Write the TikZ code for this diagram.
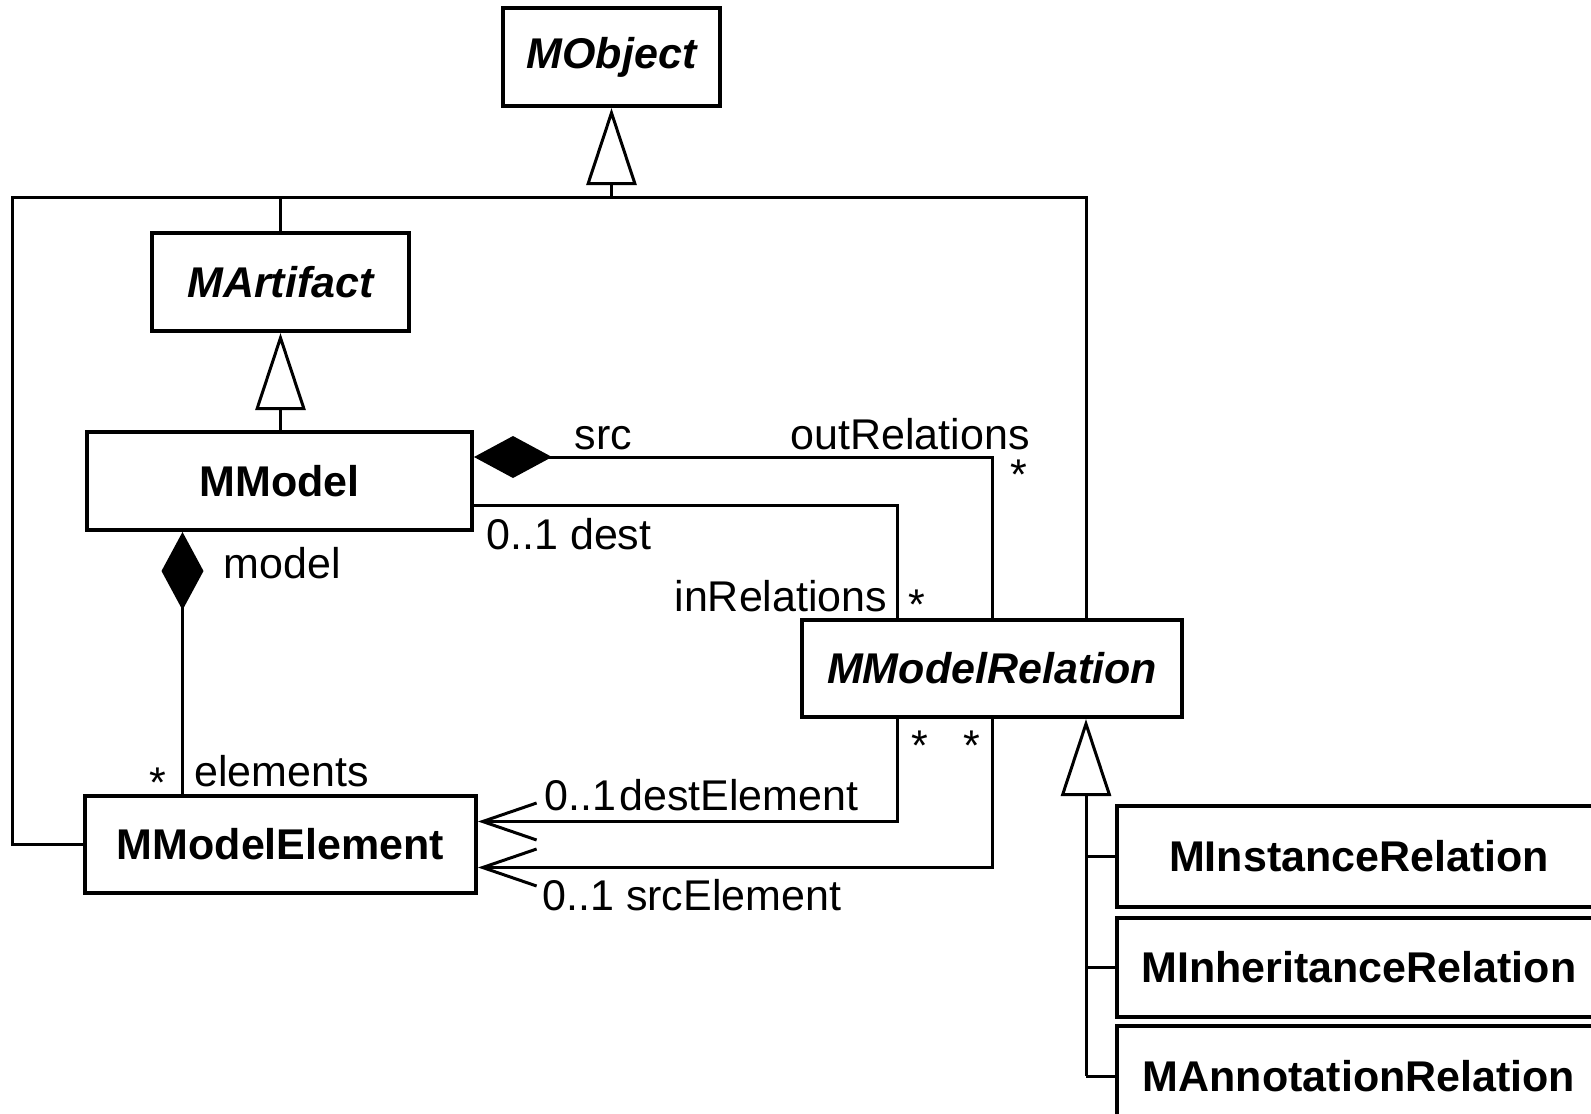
\documentclass[tikz,border=0pt]{standalone}
\usepackage{fontspec}
\setmainfont{Liberation Sans}
\usetikzlibrary{arrows.meta}

\begin{document}
\begin{tikzpicture}[x=1pt,y=-1pt,line width=3pt,
    every node/.style={font=\fontsize{43}{50}\selectfont},
    cls/.style={draw,rectangle,line width=4pt,minimum height=98pt,inner sep=0pt,font=\fontsize{43}{50}\selectfont\bfseries},
    abstr/.style={cls,font=\fontsize{43}{50}\selectfont\bfseries\itshape},
    lbl/.style={inner sep=0pt,anchor=base west},
    mult/.style={inner sep=0pt,anchor=base},
    gen/.style={{Triangle[open,length=77pt,width=50pt]}-},
    comp/.style={{Diamond[length=78pt,width=42pt]}-},
    nav/.style={-{Straight Barb[length=54pt,width=37pt]}}]
    \clip (0,0) rectangle (1591,1114);
    \node[abstr,minimum width=217pt] (mobject) at (611.5,57) {MObject};
    \node[abstr,minimum width=257pt] (martifact) at (280.5,282) {MArtifact};
    \node[cls,minimum width=385pt] (mmodel) at (279.5,481) {MModel};
    \node[cls,minimum width=391pt,minimum height=97pt] (melem) at (280.5,844.5) {MModelElement};
    \node[abstr,minimum width=380pt,minimum height=97pt] (mrel) at (992,668.5) {MModelRelation};
    \node[cls,minimum width=484pt,minimum height=101pt] (inst) at (1359,856.5) {MInstanceRelation};
    \node[cls,minimum width=484pt,minimum height=99pt] (inher) at (1359,967.5) {MInheritanceRelation};
    \node[cls,minimum width=484pt,minimum height=100pt] (annot) at (1359,1076) {MAnnotationRelation};

    \coordinate (busl) at (12,197);
    \coordinate (busr) at (1086,197);
    \coordinate (trunk) at ([xshift=94pt]mrel.south);

    \draw (melem.west) -| (busl) -- (busr) -- (busr |- mrel.north);
    \draw[gen] (mobject.south) -- (mobject.south |- busl);
    \draw (martifact.north) -- (martifact.north |- busl);
    \draw[gen] (martifact.south) -- (martifact.south |- mmodel.north);
    \draw[comp] ([yshift=24pt]mmodel.east) -| (mrel.north);
    \draw ([yshift=-24pt]mmodel.east) -| ([xshift=-95pt]mrel.north);
    \draw[comp] ([xshift=-97pt]mmodel.south) -- ([xshift=-97pt]mmodel.south |- melem.north);
    \draw[nav] ([xshift=-95pt]mrel.south) |- ([yshift=23pt]melem.east);
    \draw[nav] (mrel.south) |- ([yshift=-23pt]melem.east);
    \draw[gen] (trunk) -- (trunk |- annot.west);
    \foreach \c in {inst,inher,annot}
        \draw (trunk |- \c.west) -- (\c.west);

    \node[lbl] (srcl) at (573,449) {src};
    \node[lbl] (outl) at (789,449) {outRelations};
    \node[mult] (outm) at (1019,489) {*};
    \node[lbl] (destl) at (485,549) {0..1 dest};
    \node[lbl] (inl) at (673,611) {inRelations};
    \node[mult] (inm) at (917,619) {*};
    \node[lbl] (modell) at (222,578) {model};
    \node[mult] (elemm) at (158,797) {*};
    \node[lbl] (eleml) at (193,786) {elements};
    \node[mult] (dem) at (920,760) {*};
    \node[mult] (sem) at (972,760) {*};
    \node[lbl] (destm) at (543,810) {0..1};
    \node[lbl,anchor=base east] (destel) at (860,810) {destElement};
    \node[lbl] (srcel) at (541,910) {0..1 srcElement};
\end{tikzpicture}
\end{document}
